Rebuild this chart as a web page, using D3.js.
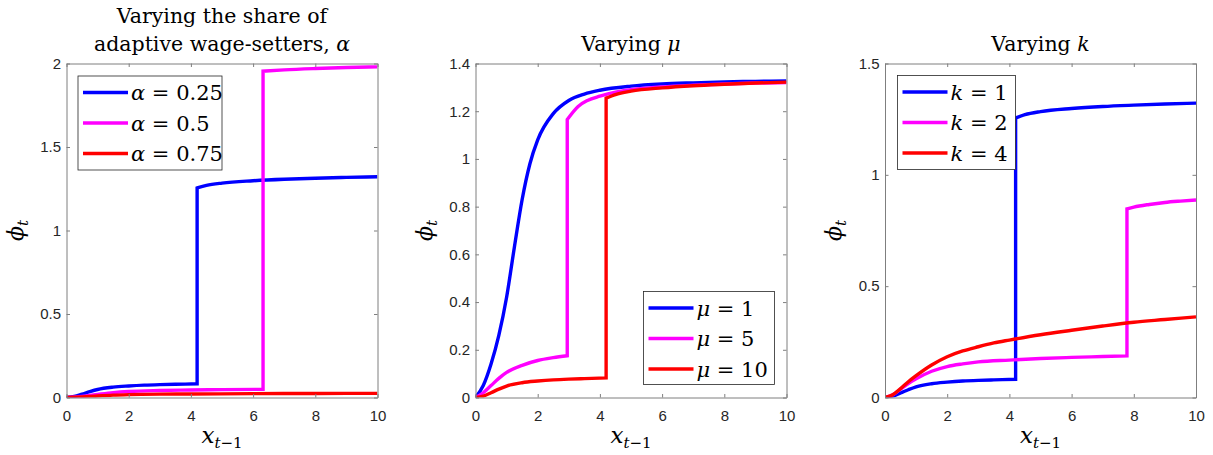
<!DOCTYPE html>
<html>
<head>
<meta charset="utf-8">
<script src="https://cdn.jsdelivr.net/npm/d3@7"></script>
<style>
  body { margin: 0; background: #fff; }
  .serif { font-family: "DejaVu Serif", serif; fill: #000; }
</style>
</head>
<body>
<svg id="chart" width="1213" height="455"></svg>
<script>
// ---- data ----
var xTicks = [0, 2, 4, 6, 8, 10];

// baseline case (alpha = 0.25, mu = 10, k = 1): low branch then high branch
var baseLowX  = [0, 0.25, 0.5, 0.75, 1, 1.5, 2, 2.5, 3, 3.5, 4.2];
var baseLowY  = [0, 0.006, 0.02, 0.035, 0.048, 0.062, 0.069, 0.074, 0.077, 0.079, 0.082];
var baseHighX = [4.2, 4.5, 5, 6, 7, 8, 9, 10];
var baseHighY = [1.255, 1.27, 1.284, 1.298, 1.307, 1.313, 1.318, 1.322];

// panel 1: alpha
var alpha05LowX  = [0, 0.5, 1, 1.5, 2, 3, 4, 5, 6.32];
var alpha05LowY  = [0, 0.006, 0.018, 0.029, 0.036, 0.042, 0.045, 0.047, 0.049];
var alpha05HighX = [6.32, 7, 8, 9, 10];
var alpha05HighY = [1.954, 1.962, 1.97, 1.976, 1.98];
var alpha075X = [0, 0.5, 1, 1.5, 2, 3, 4, 6, 8, 10];
var alpha075Y = [0, 0.003, 0.009, 0.014, 0.017, 0.02, 0.021, 0.023, 0.024, 0.025];

// panel 2: mu
var mu1X = [0, 0.25, 0.5, 0.75, 1, 1.25, 1.5, 1.75, 2, 2.5, 3, 3.5, 4, 5, 6, 7, 8, 9, 10];
var mu1Y = [0, 0.05, 0.14, 0.26, 0.42, 0.63, 0.83, 0.98, 1.08, 1.19, 1.245, 1.272, 1.288, 1.305, 1.314, 1.319, 1.323, 1.325, 1.327];
var mu5LowX  = [0, 0.25, 0.5, 0.75, 1, 1.5, 2, 2.5, 2.95];
var mu5LowY  = [0, 0.02, 0.05, 0.08, 0.105, 0.135, 0.155, 0.167, 0.175];
var mu5HighX = [2.95, 3.3, 3.6, 4, 4.5, 5, 6, 7, 8, 9, 10];
var mu5HighY = [1.165, 1.22, 1.245, 1.263, 1.28, 1.29, 1.302, 1.309, 1.314, 1.318, 1.32];

// panel 3: k
var k2LowX  = [0, 0.25, 0.5, 0.75, 1, 1.5, 2, 2.5, 3, 4, 5, 6, 7, 7.78];
var k2LowY  = [0, 0.012, 0.038, 0.063, 0.084, 0.118, 0.139, 0.151, 0.16, 0.168, 0.175, 0.18, 0.184, 0.187];
var k2HighX = [7.78, 8, 8.5, 9, 9.5, 10];
var k2HighY = [0.847, 0.855, 0.867, 0.876, 0.882, 0.887];
var k4X = [0, 0.25, 0.5, 0.75, 1, 1.5, 2, 2.5, 3, 3.5, 4, 5, 6, 7, 8, 9, 10];
var k4Y = [0, 0.012, 0.04, 0.071, 0.098, 0.146, 0.183, 0.209, 0.228, 0.245, 0.258, 0.282, 0.302, 0.321, 0.338, 0.35, 0.362];

var yTicks1 = [0, 0.5, 1, 1.5, 2];
var yTicks2 = [0, 0.2, 0.4, 0.6, 0.8, 1, 1.2, 1.4];
var yTicks3 = [0, 0.5, 1, 1.5];

var colors = ["#0000ff", "#ff00ff", "#ff0000"];

function pts(xs, ys) {
    return xs.map(function(x, i) { return [x, ys[i]]; });
}

var panels = [
    {
        left: 66.5, title: ["Varying the share of", "adaptive wage-setters, "], titleSym: "α",
        yMax: 2, yTicks: yTicks1, sym: "α",
        series: [
            {label: "0.25", parts: [pts(baseLowX, baseLowY), pts(baseHighX, baseHighY)]},
            {label: "0.5", parts: [pts(alpha05LowX, alpha05LowY), pts(alpha05HighX, alpha05HighY)]},
            {label: "0.75", parts: [pts(alpha075X, alpha075Y)]}
        ],
        legend: {x: 78, y: 76, w: 144, h: 94}
    },
    {
        left: 475.5, title: ["Varying "], titleSym: "μ",
        yMax: 1.4, yTicks: yTicks2, sym: "μ",
        series: [
            {label: "1", parts: [pts(mu1X, mu1Y)]},
            {label: "5", parts: [pts(mu5LowX, mu5LowY), pts(mu5HighX, mu5HighY)]},
            {label: "10", parts: [pts(baseLowX, baseLowY), pts(baseHighX, baseHighY)]}
        ],
        legend: {x: 643.5, y: 291.5, w: 131, h: 93}
    },
    {
        left: 885, title: ["Varying "], titleSym: "k",
        yMax: 1.5, yTicks: yTicks3, sym: "k",
        series: [
            {label: "1", parts: [pts(baseLowX, baseLowY), pts(baseHighX, baseHighY)]},
            {label: "2", parts: [pts(k2LowX, k2LowY), pts(k2HighX, k2HighY)]},
            {label: "4", parts: [pts(k4X, k4Y)]}
        ],
        legend: {x: 897.5, y: 75.5, w: 118, h: 94}
    }
];

var plotTop = 63.5, pw = 311, ph = 334;
var svg = d3.select("#chart");

panels.forEach(function(p) {
    var g = svg.append("g").attr("transform", "translate(" + p.left + "," + plotTop + ")");
    var x = d3.scaleLinear().domain([0, 10]).range([0, pw]);
    var y = d3.scaleLinear().domain([0, p.yMax]).range([ph, 0]);

    var line = d3.line()
        .x(function(d) { return x(d[0]); })
        .y(function(d) { return y(d[1]); })
        .curve(d3.curveMonotoneX);

    // clip so thick lines don't bleed past box
    var clipId = "clip" + Math.round(p.left);
    g.append("clipPath").attr("id", clipId)
        .append("rect").attr("x", 0).attr("y", -2).attr("width", pw).attr("height", ph + 2);

    var lines = g.append("g").attr("clip-path", "url(#" + clipId + ")");
    p.series.forEach(function(s, i) {
        var d = s.parts.map(function(part, j) {
            var path = line(part);
            return j == 0 ? path : path.replace(/^M/, "L");
        }).join("");
        lines.append("path")
            .attr("d", d)
            .attr("fill", "none")
            .attr("stroke", colors[i])
            .attr("stroke-width", 3.4)
            .attr("stroke-linejoin", "miter");
    });

    // axes, ticks pointing inward, box all round
    var fmt = function(v) { return String(+v.toFixed(2)); };
    var ax = [
        {axis: d3.axisBottom(x).tickValues(xTicks).tickFormat(fmt), t: "translate(0," + ph + ")", labels: true},
        {axis: d3.axisTop(x).tickValues(xTicks), t: "translate(0,0)", labels: false},
        {axis: d3.axisLeft(y).tickValues(p.yTicks).tickFormat(fmt), t: "translate(0,0)", labels: true},
        {axis: d3.axisRight(y).tickValues(p.yTicks), t: "translate(" + pw + ",0)", labels: false}
    ];
    ax.forEach(function(a, i) {
        var ag = g.append("g").attr("transform", a.t)
            .call(a.axis.tickSizeInner(-3.5).tickSizeOuter(0).tickPadding(0));
        ag.select(".domain").attr("stroke", "#7f7f7f").attr("stroke-width", 1);
        ag.selectAll(".tick line").attr("stroke", "#7f7f7f").attr("stroke-width", 1);
        if (!a.labels) { ag.selectAll(".tick text").remove(); return; }
        ag.selectAll(".tick text")
            .attr("font-family", "'Liberation Sans', Arial, sans-serif")
            .attr("font-size", 15)
            .attr("fill", "#262626");
        if (i == 0) ag.selectAll(".tick text").attr("dy", null).attr("y", 23.5);
        if (i == 2) ag.selectAll(".tick text").attr("x", -5.5);
    });

    // title
    var cx = pw / 2;
    var title = g.append("text").attr("class", "serif").attr("text-anchor", "middle")
        .attr("font-size", 20.5);
    if (p.title.length == 2) {
        g.append("text").attr("class", "serif").attr("text-anchor", "middle")
            .attr("font-size", 20.5).attr("x", cx).attr("y", 22.5 - plotTop).text(p.title[0]);
        title.attr("x", cx).attr("y", 51 - plotTop);
        title.append("tspan").text(p.title[1]);
    } else {
        title.attr("x", cx).attr("y", 51 - plotTop);
        title.append("tspan").text(p.title[0]);
    }
    title.append("tspan").attr("font-style", "italic").text(p.titleSym);

    // axis labels
    var xl = g.append("text").attr("class", "serif").attr("text-anchor", "middle")
        .attr("x", cx).attr("y", 443 - plotTop).attr("font-size", 23);
    xl.append("tspan").attr("font-style", "italic").text("x");
    xl.append("tspan").attr("font-size", 15).attr("dy", 5).attr("font-style", "italic").text("t");
    xl.append("tspan").attr("font-size", 15).text("−1");

    var yl = g.append("text").attr("class", "serif").attr("text-anchor", "middle")
        .attr("transform", "translate(-44," + (ph / 2) + ") rotate(-90)").attr("font-size", 22);
    yl.append("tspan").attr("font-style", "italic").text("ϕ");
    yl.append("tspan").attr("font-size", 15).attr("dy", 5).attr("font-style", "italic").text("t");

    // legend
    var L = p.legend;
    var lg = svg.append("g").attr("transform", "translate(" + L.x + "," + L.y + ")");
    lg.append("rect").attr("width", L.w).attr("height", L.h)
        .attr("fill", "#fff").attr("stroke", "#262626").attr("stroke-width", 0.8);
    p.series.forEach(function(s, i) {
        var ey = 16.5 + i * 30.5;
        lg.append("line").attr("x1", 5).attr("x2", 50).attr("y1", ey).attr("y2", ey)
            .attr("stroke", colors[i]).attr("stroke-width", 3.4);
        var t = lg.append("text").attr("class", "serif").attr("x", 53).attr("y", ey + 7.5)
            .attr("font-size", 21);
        t.append("tspan").attr("font-style", "italic").text(p.sym);
        t.append("tspan").text(" = " + s.label);
    });
});
</script>
</body>
</html>
